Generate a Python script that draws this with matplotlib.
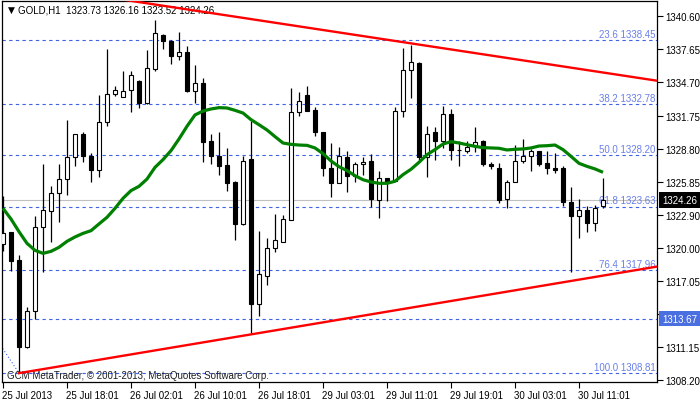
import numpy as np
import matplotlib
matplotlib.use("Agg")
import matplotlib.pyplot as plt
import matplotlib.transforms as mtransforms

plt.rcParams['font.family'] = ['Liberation Sans', 'DejaVu Sans']
plt.rcParams['font.size'] = 7

# GOLD H1 bars, one per index (25 Jul 2013 10:00 ... 30 Jul 14:00)
opens = [1320.32, 1321.35, 1318.89, 1311.11, 1314.37, 1321.86, 1323.28, 1324.83, 1326.07, 1328.03,
         1330.08, 1328.12, 1326.94, 1331.21, 1333.65, 1333.44, 1334.03, 1334.83, 1332.90, 1335.90,
         1338.93, 1338.40, 1337.09, 1337.45, 1333.97, 1334.66, 1329.49, 1328.12, 1327.35, 1325.84,
         1322.13, 1327.86, 1314.99, 1317.49, 1319.93, 1320.52, 1322.45, 1332.04, 1333.56, 1332.25,
         1330.26, 1327.05, 1325.72, 1328.06, 1326.40, 1327.41, 1327.68, 1324.26, 1326.16, 1325.90,
         1332.19, 1335.81, 1336.44, 1328.09, 1330.26, 1329.52, 1331.87, 1328.72, 1328.63, 1329.01,
         1329.49, 1327.47, 1327.05, 1324.35, 1325.81, 1327.74, 1328.12, 1328.60, 1327.53, 1327.05,
         1327.08, 1324.03, 1322.78, 1323.34, 1322.15, 1323.73]
highs = [1324.62, 1321.40, 1319.33, 1314.67, 1322.78, 1327.44, 1325.51, 1327.44, 1331.39, 1330.14,
         1330.32, 1328.42, 1333.59, 1337.69, 1334.36, 1335.73, 1335.73, 1334.92, 1337.60, 1340.27,
         1339.02, 1338.52, 1339.17, 1337.98, 1336.26, 1335.07, 1330.11, 1330.26, 1328.87, 1325.96,
         1328.18, 1331.30, 1321.44, 1320.85, 1322.99, 1322.90, 1334.21, 1333.83, 1334.36, 1332.49,
         1330.26, 1329.31, 1328.93, 1328.57, 1327.59, 1328.03, 1328.30, 1326.79, 1326.19, 1332.55,
         1337.77, 1338.07, 1336.53, 1330.83, 1330.74, 1332.64, 1332.34, 1329.52, 1329.52, 1330.71,
         1329.61, 1327.65, 1327.53, 1325.99, 1329.16, 1329.67, 1328.78, 1328.63, 1328.63, 1328.42,
         1327.29, 1325.36, 1324.32, 1323.73, 1323.82, 1326.16]
lows = [1319.72, 1317.94, 1308.81, 1311.02, 1313.63, 1317.85, 1320.52, 1322.30, 1324.71, 1327.29,
        1327.65, 1325.87, 1326.25, 1330.80, 1333.53, 1333.44, 1332.04, 1332.43, 1332.76, 1335.73,
        1337.69, 1336.35, 1336.74, 1333.88, 1332.87, 1327.65, 1327.44, 1326.46, 1325.04, 1320.70,
        1322.05, 1312.30, 1313.93, 1316.66, 1319.63, 1320.52, 1322.45, 1331.75, 1332.19, 1329.91,
        1326.40, 1324.53, 1325.72, 1324.92, 1325.81, 1326.49, 1323.58, 1322.63, 1324.14, 1325.90,
        1331.66, 1333.32, 1327.80, 1326.31, 1327.83, 1328.84, 1327.83, 1327.29, 1328.42, 1328.48,
        1327.29, 1326.99, 1323.97, 1323.49, 1325.81, 1327.50, 1326.85, 1327.29, 1326.55, 1326.64,
        1323.73, 1317.85, 1320.82, 1321.35, 1321.50, 1323.52]
closes = [1321.27, 1318.77, 1311.11, 1314.37, 1321.86, 1323.34, 1324.83, 1326.07, 1328.03, 1330.08,
          1328.12, 1326.94, 1331.15, 1333.65, 1334.03, 1333.91, 1335.34, 1332.90, 1335.96, 1339.11,
          1338.40, 1337.09, 1337.39, 1333.97, 1334.63, 1329.43, 1328.12, 1327.29, 1325.78, 1322.13,
          1327.74, 1314.99, 1317.61, 1319.93, 1320.67, 1322.54, 1332.04, 1333.02, 1332.19, 1330.26,
          1327.05, 1325.72, 1328.12, 1326.40, 1327.41, 1327.65, 1324.32, 1326.16, 1325.81, 1332.13,
          1335.81, 1336.50, 1328.09, 1330.08, 1329.52, 1331.87, 1328.72, 1328.69, 1328.98, 1329.37,
          1327.47, 1327.23, 1324.20, 1325.84, 1327.68, 1328.12, 1328.63, 1327.47, 1327.05, 1326.94,
          1324.03, 1322.78, 1323.34, 1322.15, 1323.55, 1324.26]
# green moving average
ma_line = [1323.49, 1322.54, 1321.41, 1320.37, 1319.75, 1319.48, 1319.66, 1320.02, 1320.55, 1320.94,
           1321.26, 1321.50, 1322.10, 1322.69, 1323.49, 1324.38, 1325.07, 1325.45, 1326.10, 1327.14,
           1327.83, 1328.63, 1329.67, 1330.80, 1331.81, 1332.16, 1332.34, 1332.46, 1332.43, 1332.22,
           1331.98, 1331.39, 1330.94, 1330.47, 1329.88, 1329.31, 1329.19, 1329.13, 1329.10, 1328.87,
           1328.36, 1327.71, 1327.20, 1326.85, 1326.40, 1326.04, 1325.84, 1325.72, 1325.72, 1325.90,
           1326.49, 1326.97, 1327.59, 1328.27, 1328.72, 1329.22, 1329.43, 1329.31, 1329.16, 1329.01,
           1328.90, 1328.87, 1328.84, 1328.69, 1328.75, 1328.78, 1328.87, 1329.04, 1329.07, 1329.13,
           1328.72, 1328.12, 1327.50, 1327.23, 1327.00, 1326.70]

time_ticks = [0, 8, 16, 24, 32, 40, 48, 56, 64, 72]
time_labels = ["25 Jul 2013", "25 Jul 18:01", "26 Jul 02:01", "26 Jul 10:01", "26 Jul 18:01",
               "29 Jul 03:01", "29 Jul 11:01", "29 Jul 19:01", "30 Jul 03:01", "30 Jul 11:01"]
price_ticks = [1340.60, 1337.65, 1334.70, 1331.75, 1328.80, 1325.85, 1322.90, 1320.00,
               1317.05, 1314.10, 1311.15, 1308.20]

fib_pcts = ["23.6", "38.2", "50.0", "61.8", "76.4", "100.0"]
fib_prices = [1338.45, 1332.78, 1328.20, 1323.63, 1317.96, 1308.81]
fib_diag_x = [-34, 2]
fib_diag_y = [1347.59, 1308.81]
hline_price = 1313.67
last_price = 1324.26

upper_x = [10, 81.75]
upper_y = [1342.62, 1334.86]
lower_x = [2, 81.75]
lower_y = [1308.81, 1318.30]

title = "GOLD,H1  1323.73 1326.16 1323.52 1324.26"
footer = "GCM MetaTrader, \u00a9 2001-2013, MetaQuotes Software Corp."

fib_line_c = '#3f62e6'
fib_text_c = '#6a7fe8'

fig = plt.figure(figsize=(7, 4.02), dpi=100)
ax = fig.add_axes([2 / 700, 19 / 402, 655 / 700, 381 / 402])
ax.set_xlim(-0.125, 81.75)
ax.set_ylim(1308.02, 1341.96)

# fibo levels + extra horizontal lines
for p, v in zip(fib_pcts, fib_prices):
    ax.axhline(v, color=fib_line_c, lw=0.8, ls=(0, (3, 3)), zorder=1)
    ax.text(81.55, v + 0.12, f"{p} {v:.2f}", ha='right', va='bottom', color=fib_text_c, zorder=2)
ax.axhline(hline_price, color=fib_line_c, lw=0.8, ls=(0, (3, 3)), zorder=1)
ax.plot(fib_diag_x, fib_diag_y, color=fib_line_c, lw=0.8, ls=(0, (1, 2)), zorder=1)
ax.axhline(last_price, color='#c0c0c0', lw=0.8, zorder=1)

# candles
idx = np.arange(len(opens))
o = np.array(opens)
c = np.array(closes)
bull = c >= o
ax.vlines(idx, lows, highs, color='black', lw=0.9, zorder=3)
ax.bar(idx, np.abs(c - o), bottom=np.minimum(o, c), width=0.55,
       color=np.where(bull, 'white', 'black'), edgecolor='black', linewidth=0.8, zorder=4)

ax.plot(idx, ma_line, color='#008000', lw=2.3, zorder=5, solid_capstyle='butt')
ax.plot(upper_x, upper_y, color='#ff0000', lw=1.7, zorder=6)
ax.plot(lower_x, lower_y, color='#ff0000', lw=1.7, zorder=6)

# axes
for s in ax.spines.values():
    s.set_color('black')
    s.set_linewidth(0.9)
ax.yaxis.tick_right()
ax.set_yticks(price_ticks)
ax.set_yticklabels([f"{v:.2f}" for v in price_ticks])
ax.tick_params(axis='y', length=4, width=0.8, pad=2, labelsize=7)
ax.set_xticks(time_ticks)
ax.set_xticklabels(time_labels, ha='left')
ax.tick_params(axis='x', length=4, width=0.8, pad=1.5, labelsize=7)
off = mtransforms.ScaledTranslation(-1 / 100, 0, fig.dpi_scale_trans)
for lab in ax.get_xticklabels():
    lab.set_transform(lab.get_transform() + off)

# price boxes on the scale
ytr = ax.get_yaxis_transform()
ax.text(1 + 5 / 655, last_price, f"{last_price:.2f}", transform=ytr, ha='left', va='center',
        color='white', clip_on=False, zorder=10,
        bbox=dict(boxstyle='square,pad=0.3', fc='black', ec='none'))
ax.text(1 + 5 / 655, hline_price, f"{hline_price:.2f}", transform=ytr, ha='left', va='center',
        color='white', clip_on=False, zorder=10,
        bbox=dict(boxstyle='square,pad=0.3', fc='#4a6fe0', ec='none'))

ax.text(9 / 655, 1 - 8.5 / 381, "\u25bc", transform=ax.transAxes, ha='center', va='center',
        fontsize=6.5, family='DejaVu Sans')
ax.text(16 / 655, 1 - 8.5 / 381, title, transform=ax.transAxes, ha='left', va='center')
ax.text(5 / 655, 7 / 381, footer, transform=ax.transAxes, ha='left', va='center', color='#202020')

fig.savefig("out.png", dpi=100)
